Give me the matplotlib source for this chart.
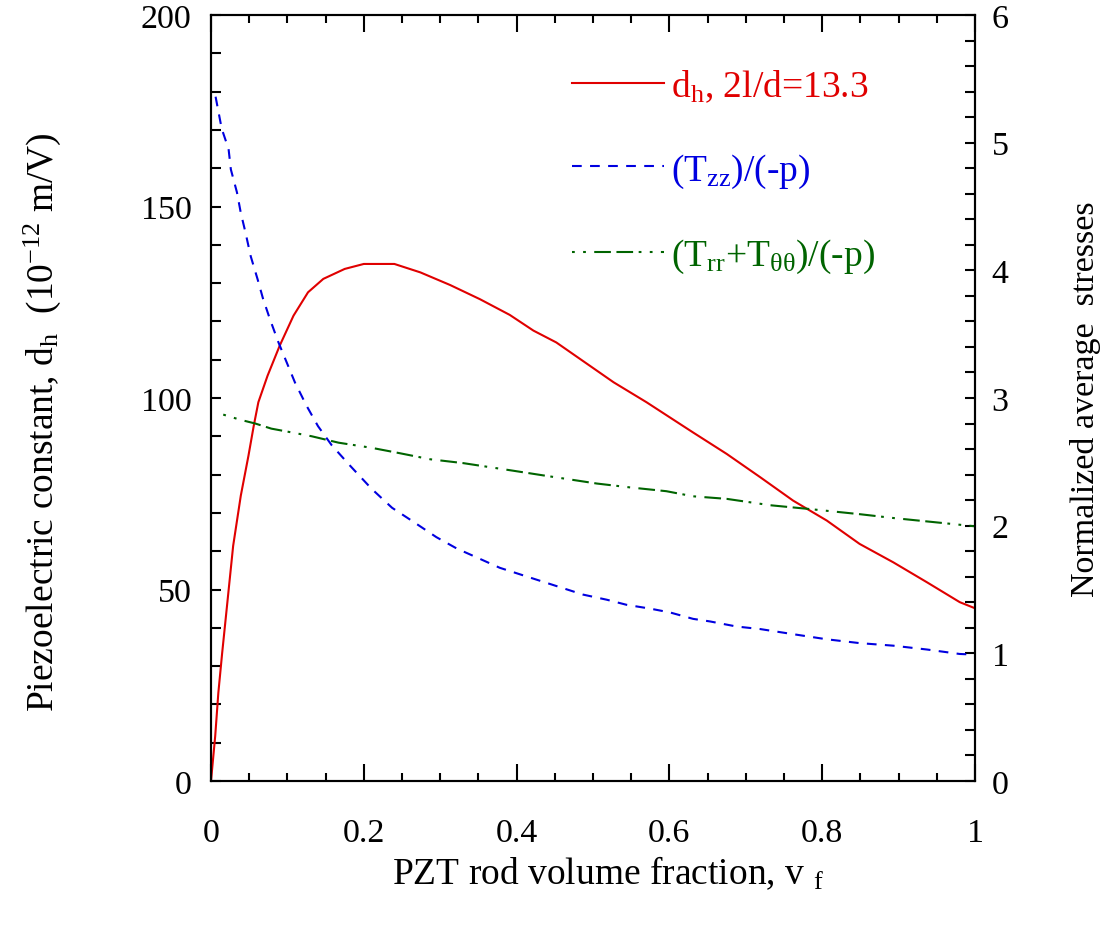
import matplotlib
matplotlib.use("Agg")
import matplotlib.pyplot as plt
from matplotlib.ticker import MultipleLocator

# ---- data ----
vf_dh = [0, 0.0055, 0.0096, 0.0146, 0.0197, 0.029, 0.039, 0.049, 0.056, 0.062, 0.074, 0.090,
         0.108, 0.127, 0.147, 0.175, 0.20, 0.24, 0.274, 0.313, 0.352, 0.391, 0.422, 0.452,
         0.483, 0.527, 0.570, 0.614, 0.631, 0.675, 0.719, 0.762, 0.806, 0.849, 0.893, 0.937,
         0.980, 1.0]
dh = [0, 11.7, 23, 33.4, 43.3, 61.4, 74.5, 84.9, 92.8, 98.9, 105.8, 113.7,
      121.5, 127.6, 131.1, 133.7, 135.0, 135.0, 132.8, 129.5, 125.8, 121.7, 117.6, 114.5,
      110.2, 104.1, 98.9, 93.2, 91.0, 85.4, 79.3, 73.2, 68.0, 61.9, 57.1, 51.9,
      46.7, 45.1]

vf_tzz = [0.006, 0.014, 0.023, 0.026, 0.034, 0.039, 0.045, 0.052, 0.061, 0.068, 0.077, 0.088,
          0.099, 0.110, 0.125, 0.140, 0.158, 0.182, 0.210, 0.237, 0.265, 0.295, 0.322, 0.352,
          0.378, 0.409, 0.435, 0.461, 0.487, 0.518, 0.544, 0.575, 0.601, 0.631, 0.653, 0.688,
          0.719, 0.762, 0.806, 0.849, 0.893, 0.937, 0.980, 1.0]
tzz = [5.36, 5.11, 4.95, 4.79, 4.61, 4.45, 4.30, 4.11, 3.93, 3.78, 3.62, 3.44,
       3.28, 3.12, 2.94, 2.78, 2.63, 2.47, 2.29, 2.14, 2.03, 1.91, 1.82, 1.74,
       1.67, 1.61, 1.56, 1.51, 1.46, 1.42, 1.38, 1.35, 1.32, 1.27, 1.25, 1.21,
       1.19, 1.15, 1.11, 1.08, 1.06, 1.03, 0.995, 0.99]

vf_trr = [0.016, 0.038, 0.058, 0.079, 0.106, 0.132, 0.167, 0.210, 0.245, 0.287, 0.330, 0.396,
          0.439, 0.505, 0.548, 0.596, 0.631, 0.675, 0.732, 0.784, 0.849, 0.893, 0.959, 1.0]
trr = [2.87, 2.83, 2.80, 2.76, 2.73, 2.70, 2.65, 2.61, 2.57, 2.52, 2.49, 2.43,
       2.39, 2.33, 2.30, 2.27, 2.23, 2.21, 2.16, 2.13, 2.09, 2.06, 2.02, 1.995]

x_ticks = [0, 0.2, 0.4, 0.6, 0.8, 1]
x_ticklabels = ["0", "0.2", "0.4", "0.6", "0.8", "1"]

label_dh = r"$\mathregular{d_h}$, 2l/d=13.3"
label_tzz = r"($\mathregular{T_{zz}}$)/(-p)"
label_trr = r"($\mathregular{T_{rr}}$+$\mathregular{T_{θθ}}$)/(-p)"

# ---- style ----
plt.rcParams["font.family"] = ["Liberation Serif", "DejaVu Serif"]
plt.rcParams["mathtext.fontset"] = "custom"
plt.rcParams["mathtext.rm"] = "Liberation Serif"
plt.rcParams["mathtext.it"] = "Liberation Serif:italic"
plt.rcParams["lines.scale_dashes"] = False
FS_TICK = 24.5
FS_LAB = 27
FS_RLAB = 24.5
FS_LEG = 27

fig = plt.figure(figsize=(11.12, 9.28), dpi=100)
ax = fig.add_axes([211/1112, 1 - 782/928, (975-211)/1112, (782-16)/928])
ax2 = ax.twinx()

red, = ax.plot(vf_dh, dh, color="#e00000", lw=1.5, label=label_dh)
blue, = ax2.plot(vf_tzz, tzz, color="#0000e0", lw=1.5, dashes=(7, 6), label=label_tzz)
green, = ax2.plot(vf_trr, trr, color="#006400", lw=1.5,
                  dashes=(2, 6, 2, 6, 12, 4, 12, 4), label=label_trr)

ax.set_xlim(0, 1)
ax.set_ylim(0, 200)
ax2.set_ylim(0, 6)

ax.set_xticks(x_ticks)
ax.set_xticklabels(x_ticklabels)
ax.xaxis.set_minor_locator(MultipleLocator(0.05))
ax.yaxis.set_major_locator(MultipleLocator(50))
ax.yaxis.set_minor_locator(MultipleLocator(10))
ax2.yaxis.set_major_locator(MultipleLocator(1))
ax2.yaxis.set_minor_locator(MultipleLocator(0.2))

for a in (ax, ax2):
    for s in a.spines.values():
        s.set_linewidth(1.5)

ax.tick_params(axis="x", which="both", direction="in", top=True, bottom=True,
               labelsize=FS_TICK, pad=26, width=1.5)
ax.tick_params(axis="x", which="major", length=12)
ax.tick_params(axis="x", which="minor", length=6)
ax.tick_params(axis="y", which="both", direction="in", left=True, right=False,
               labelsize=FS_TICK, pad=14, width=1.5, length=7)
ax2.tick_params(axis="y", which="both", direction="in", right=True, left=False,
                labelsize=FS_TICK, pad=12, width=1.5, length=7)

ax.set_xlabel(r"PZT rod volume fraction, v $\mathregular{_f}$", fontsize=FS_LAB, labelpad=4)
ax.xaxis.label.set_x(0.52)
ax.set_ylabel(r"Piezoelectric constant, $\mathregular{d_h}$  ($\mathregular{10^{-12}}$ m/V)",
              fontsize=FS_LAB, labelpad=56)
ax.yaxis.label.set_y(0.47)
ax2.set_ylabel("Normalized average  stresses", fontsize=FS_RLAB, labelpad=44)

leg = ax2.legend(handles=[red, blue, green], loc="upper left",
                 bbox_to_anchor=(0.428, 0.975), frameon=False, fontsize=FS_LEG,
                 handlelength=2.45, handletextpad=0.2, labelspacing=1.25,
                 labelcolor="linecolor")

fig.savefig("out.png", dpi=100)
